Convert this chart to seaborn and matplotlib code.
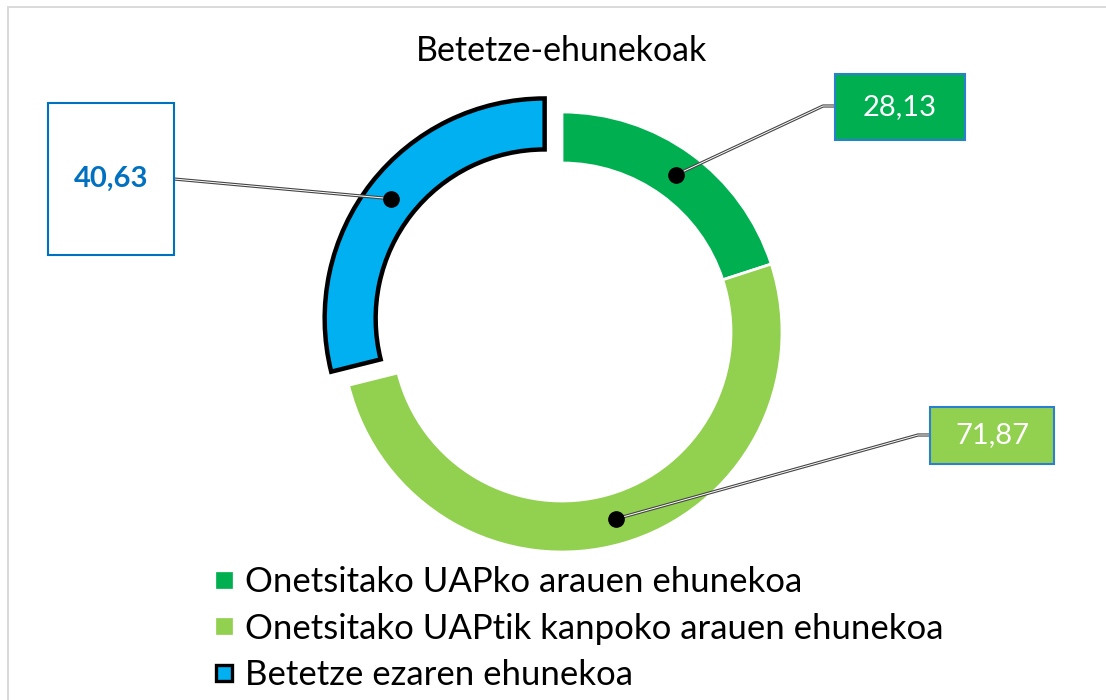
import matplotlib
matplotlib.use("Agg")
import matplotlib.pyplot as plt
import matplotlib.patches as mpatches
from matplotlib.lines import Line2D
import numpy as np
import seaborn as sns

# data
categories = ["Onetsitako UAPko arauen ehunekoa",
              "Onetsitako UAPtik kanpoko arauen ehunekoa",
              "Betetze ezaren ehunekoa"]
values = [28.13, 71.87, 40.63]
value_labels = ["28,13", "71,87", "40,63"]
colors = ["#00B050", "#92D050", "#00B0F0"]
title = "Betetze-ehunekoak"

sns.set_theme(style="white")
plt.rcParams['font.family'] = ['Lato', 'DejaVu Sans']
plt.rcParams['text.color'] = 'black'

W, H = 1106, 700
fig = plt.figure(figsize=(W / 100, H / 100), dpi=100)
ax = fig.add_axes([0, 0, 1, 1])

# ring geometry in pixel units (y up)
cx, cy = 562, H - 332
R = 220
ring = 51

wedges, _ = ax.pie(values, colors=colors, startangle=90, counterclock=False,
                   radius=R, center=(cx, cy), explode=[0, 0, 22],
                   wedgeprops=dict(width=ring, edgecolor="white", linewidth=2))
wedges[2].set_edgecolor("black")
wedges[2].set_linewidth(3.2)
wedges[2].set_joinstyle("miter")
ax.set_xlim(0, W)
ax.set_ylim(0, H)
ax.set_aspect("auto")
ax.axis("off")

# callout boxes: (x0, y0, x1, y1) top-down px, attach point, elbow point
boxes = [
    dict(rect=(835, 74, 965, 140), face="#00B050", edge="#2A7FD0", tc="white",
         weight="normal", attach=(835, 106), elbow=(823, 106)),
    dict(rect=(930, 407, 1054, 464), face="#92D050", edge="#2A7FD0", tc="white",
         weight="normal", attach=(930, 435), elbow=(918, 435)),
    dict(rect=(48, 103, 174, 255), face="white", edge="#0070C0", tc="#0070C0",
         weight="bold", attach=(174, 179), elbow=None),
]

for w, lab, b in zip(wedges, value_labels, boxes):
    th = np.deg2rad((w.theta1 + w.theta2) / 2)
    rm = w.r - w.width / 2
    dx = w.center[0] + rm * np.cos(th)
    dy = w.center[1] + rm * np.sin(th)

    xs = [dx]
    ys = [dy]
    if b["elbow"] is not None:
        xs.append(b["elbow"][0])
        ys.append(H - b["elbow"][1])
    xs.append(b["attach"][0])
    ys.append(H - b["attach"][1])
    ax.plot(xs, ys, color="#444444", lw=2.3, solid_capstyle="butt", zorder=4)
    ax.plot(xs, ys, color="white", lw=0.7, solid_capstyle="butt", zorder=4)
    ax.plot([dx], [dy], "o", color="black", ms=11, zorder=5)

    x0, y0, x1, y1 = b["rect"]
    ax.add_patch(mpatches.Rectangle((x0, H - y1), x1 - x0, y1 - y0,
                                    facecolor=b["face"], edgecolor=b["edge"],
                                    lw=1.5, zorder=6))
    ax.text((x0 + x1) / 2, H - (y0 + y1) / 2, lab, ha="center", va="center",
            fontsize=21, color=b["tc"], fontweight=b["weight"], zorder=7)

# chart border (partially cropped at right/bottom)
ax.add_patch(mpatches.Rectangle((8, -20), W + 20, H - 7 + 20, fill=False,
                                edgecolor="#D9D9D9", lw=1.4, clip_on=False))

fig.text(561 / W, 1 - 51 / H, title, ha="center", va="center", fontsize=24.4,
         color="black")

handles = []
for i, c in enumerate(colors):
    ec = "black" if i == 2 else c
    mew = 2.4 if i == 2 else 0.5
    ms = 11.5 if i == 2 else 11.5
    handles.append(Line2D([], [], marker="s", ls="none", markersize=ms,
                          markerfacecolor=c, markeredgecolor=ec,
                          markeredgewidth=mew))
fig.legend(handles, categories, loc="upper left",
           bbox_to_anchor=(214 / W, 1 - 566 / H), frameon=False, fontsize=25,
           handlelength=0.6, handletextpad=0.3, labelspacing=0.42,
           borderpad=0, borderaxespad=0, labelcolor="black")

fig.savefig("out.png", dpi=100)
